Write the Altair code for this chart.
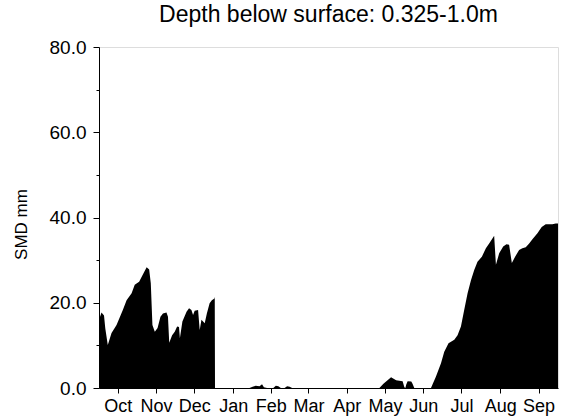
import altair as alt
import pandas as pd

# Soil moisture deficit (mm) through the water year, day 0 = 1 October
day = [
    0, 2, 4, 5, 7, 10, 14, 19, 22, 26, 28.5, 32, 35.5, 38, 40, 41.3, 42.6, 44.5,
    46.7, 49, 51, 53.8, 55, 56, 58.3, 60.4, 62.3, 63.8, 64.5, 66.5, 69.8, 71.8,
    73.7, 75, 76.3, 79, 80.3, 81.7, 84.3, 86, 88.2, 90, 92, 92.3, 92.5,
    120, 122.5, 125, 128, 130, 131.5, 134, 139, 141, 143, 145, 148, 150, 152, 154,
    223.6, 226.8, 232.9, 236.9, 242.1, 243.5, 244.3, 245, 246.1, 249, 250, 251.4,
    264.7, 268.7, 272.7, 275.3, 278.7, 283.3, 285.9, 288.6, 291.2, 293.9, 296.6,
    299.2, 301.8, 305.3, 308.5, 311.1, 313.7, 315.1, 316.5, 319.1, 322.3, 324.9,
    327, 329.2, 331.8, 335, 337.6, 340.3, 343, 345.6, 349.6, 353, 356.2, 361.5,
    364.2, 366,
]
smd = [
    16.0, 17.7, 17.0, 14.0, 10.1, 12.9, 14.8, 18.3, 20.6, 22.2, 24.2, 24.9, 26.9,
    28.3, 27.8, 24.6, 14.8, 13.2, 14.1, 16.7, 17.5, 17.7, 16.7, 10.6, 12.4, 13.2,
    14.4, 14.3, 11.7, 15.6, 17.9, 18.7, 18.3, 17.1, 18.1, 18.3, 13.6, 16.0, 15.2,
    17.5, 19.9, 20.6, 21.0, 21.4, 0.0,
    0.0, 0.3, 0.5, 0.4, 0.9, 0.2, 0.0, 0.0, 0.5, 0.4, 0.0, 0.0, 0.4, 0.3, 0.0,
    0.0, 1.0, 2.5, 1.8, 1.6, 0.2, 0.0, 0.8, 1.6, 1.5, 1.0, 0.0,
    0.0, 2.7, 5.8, 8.5, 10.5, 11.3, 12.4, 14.4, 18.3, 22.2, 25.3, 27.7, 29.6,
    30.8, 32.8, 33.9, 35.1, 35.7, 28.9, 31.6, 33.2, 33.7, 33.6, 29.3, 30.8, 32.4,
    32.8, 33.0, 33.9, 34.9, 36.3, 37.8, 38.4, 38.4, 38.6, 38.6,
]

# Month labels sit at the middle of each month
month_names = ["Oct", "Nov", "Dec", "Jan", "Feb", "Mar",
               "Apr", "May", "Jun", "Jul", "Aug", "Sep"]
month_mid = [15, 45.5, 76, 107, 137, 167, 197.5, 228, 258.5, 289, 320, 350.5]

y_ticks = [0, 10, 20, 30, 40, 50, 60, 70, 80]

df = pd.DataFrame({"day": day, "smd": smd})

FONT = "Liberation Sans"

label_expr = "{}[indexof({}, datum.value)]".format(
    "[" + ",".join("'%s'" % m for m in month_names) + "]",
    "[" + ",".join(str(v) for v in month_mid) + "]",
)

chart = (
    alt.Chart(df)
    .mark_area(color="black", interpolate="linear")
    .encode(
        x=alt.X(
            "day:Q",
            scale=alt.Scale(domain=[0, 366], nice=False, zero=False),
            axis=alt.Axis(
                values=month_mid,
                labelExpr=label_expr,
                title=None,
                grid=False,
                tickSize=5,
                labelPadding=4,
                labelFont=FONT,
                labelFontSize=18,
                labelColor="black",
                domainColor="black",
                tickColor="black",
                labelFlush=False,
                labelOverlap=False,
            ),
        ),
        y=alt.Y(
            "smd:Q",
            scale=alt.Scale(domain=[0, 80], nice=False),
            axis=alt.Axis(
                values=y_ticks,
                labelExpr="datum.value % 20 === 0 ? format(datum.value, '.1f') : ''",
                title="SMD mm",
                titleFont=FONT,
                titleFontSize=17,
                titleFontWeight="normal",
                titleColor="black",
                titleX=-78,
                titleY=177,
                titleAlign="center",
                titleBaseline="middle",
                grid=False,
                tickSize={"condition": {"test": "datum.value % 20 === 0", "value": 6}, "value": 3},
                labelPadding=7,
                labelFont=FONT,
                labelFontSize=19,
                labelColor="black",
                domainColor="black",
                tickColor="black",
                labelFlush=False,
                labelOverlap=False,
            ),
        ),
    )
    .properties(
        width=459,
        height=341,
        title=alt.TitleParams(
            "Depth below surface: 0.325-1.0m",
            font=FONT,
            fontSize=23,
            fontWeight="normal",
            color="black",
            anchor="middle",
            baseline="alphabetic",
            offset=20,
            dy=27,
        ),
        autosize=alt.AutoSizeParams(type="none"),
        padding={"left": 99, "top": 47, "right": 11, "bottom": 30},
    )
    .configure_view(stroke="black", strokeWidth=1)
    .configure(background="white")
)

chart.save("out.html", embed_options={"renderer": "svg", "actions": False})
